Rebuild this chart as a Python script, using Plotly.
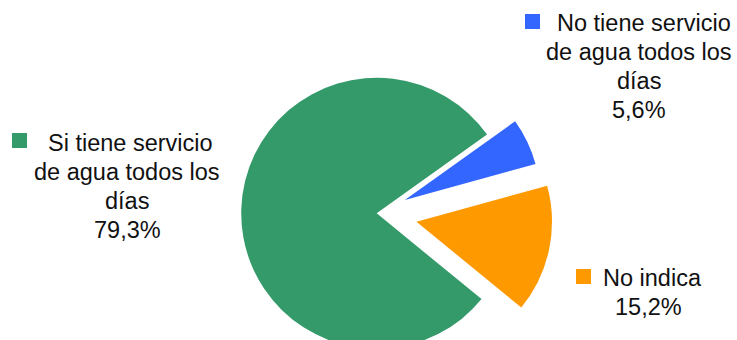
import plotly.graph_objects as go

# Survey answers: daily water service
labels = [
    "Si tiene servicio de agua todos los días",
    "No tiene servicio de agua todos los días",
    "No indica",
]
label_lines = [
    ["Si tiene servicio", "de agua todos los", "días"],
    ["No tiene servicio", "de agua todos los", "días"],
    ["No indica"],
]
values = [79.3, 5.6, 15.2]
colors = ["#359A6A", "#3366FF", "#FF9900"]
pulls = [0.0, 0.23, 0.30]

W, H = 737, 400          # canvas is taller than the window so the pie runs off the bottom
FS = 23.5                # label font size
LINE = 29                # baseline-to-baseline spacing

# pie placement in pixels (centre and radius), converted to a domain
cx, cy, r = 376.7, 213.3, 135.5
half = r * (1 + max(pulls))
dom_x = [(cx - half) / W, (cx + half) / W]
dom_y = [1 - (cy + half) / H, 1 - (cy - half) / H]

# start angle (clockwise from 12 o'clock) of the first slice
rotation = 129.3

fig = go.Figure(
    go.Pie(
        labels=labels,
        values=values,
        marker=dict(colors=colors, line=dict(width=0)),
        pull=pulls,
        sort=False,
        direction="clockwise",
        rotation=rotation,
        textinfo="none",
        hoverinfo="label+percent",
        showlegend=False,
        domain=dict(x=dom_x, y=dom_y),
    )
)

# label blocks: square box, first-line centre, other-line centre, first baseline
blocks = [
    dict(sq=(12, 133), x1=130, x=127, base=151),
    dict(sq=(525, 14), x1=644, x=639, base=31),
    dict(sq=(576, 269), x1=652, x=648.5, base=286),
]
SQ = 15

annotations = []
shapes = []
for lines, val, col, b in zip(label_lines, values, colors, blocks):
    pct = f"{val:.1f}".replace(".", ",") + "%"
    all_lines = lines + [pct]
    for i, txt in enumerate(all_lines):
        bx = b["x1"] if i == 0 else b["x"]
        base = b["base"] + i * LINE
        mid = base - 0.3465 * FS
        annotations.append(dict(
            text=txt, xref="paper", yref="paper",
            x=bx / W, y=1 - mid / H,
            xanchor="center", yanchor="middle",
            showarrow=False,
            font=dict(family="Liberation Sans, Arial, sans-serif", size=FS, color="#111111"),
        ))
    sx, sy = b["sq"]
    shapes.append(dict(
        type="rect", xref="paper", yref="paper",
        x0=sx / W, x1=(sx + SQ) / W, y0=1 - (sy + SQ) / H, y1=1 - sy / H,
        fillcolor=col, line=dict(width=0),
    ))

fig.update_layout(
    width=W, height=H,
    margin=dict(l=0, r=0, t=0, b=0),
    paper_bgcolor="white",
    plot_bgcolor="white",
    annotations=annotations,
    shapes=shapes,
)

fig.write_html(
    "out.html",
    post_script="document.documentElement.style.overflow='hidden';"
                "document.body.style.overflow='hidden';"
                "document.body.style.margin='0';",
)
